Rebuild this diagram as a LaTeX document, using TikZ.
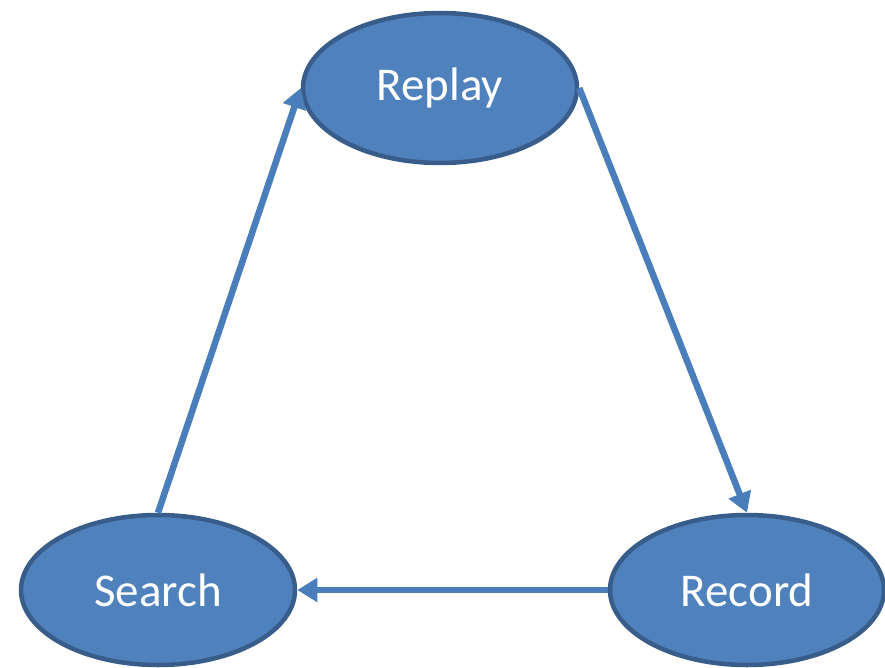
\documentclass[tikz,border=0pt]{standalone}
\usepackage{fontspec}
\setmainfont{Carlito}
\usepackage{xcolor}
\usetikzlibrary{shapes.geometric,arrows.meta}
\definecolor{stepfill}{RGB}{79,129,189}
\definecolor{stepline}{RGB}{56,93,138}
\definecolor{flowblue}{RGB}{74,126,187}

\begin{document}
\begin{tikzpicture}[x=1pt, y=-1pt,
    stage/.style={ellipse, draw=stepline, line width=4.5pt, fill=stepfill,
        minimum width=274pt, minimum height=150pt, inner sep=0pt,
        text=white, font=\fontsize{47}{56}\selectfont},
    flow/.style={draw=flowblue, line width=6.5pt,
        -{Triangle[length=20pt, width=23pt]}}]
    \useasboundingbox (0,0) rectangle (885,668);

    % States
    \node[stage] (replay) at (440,88) {Replay};
    \node[stage] (search) at (158,590) {Search};
    \node[stage] (record) at (747,590) {Record};

    % Cycle
    \draw[flow] (search.north) -- (replay.west);
    \draw[flow] (replay.east) -- (record.north);
    \draw[flow] (record.west) -- (search.east);
\end{tikzpicture}
\end{document}
